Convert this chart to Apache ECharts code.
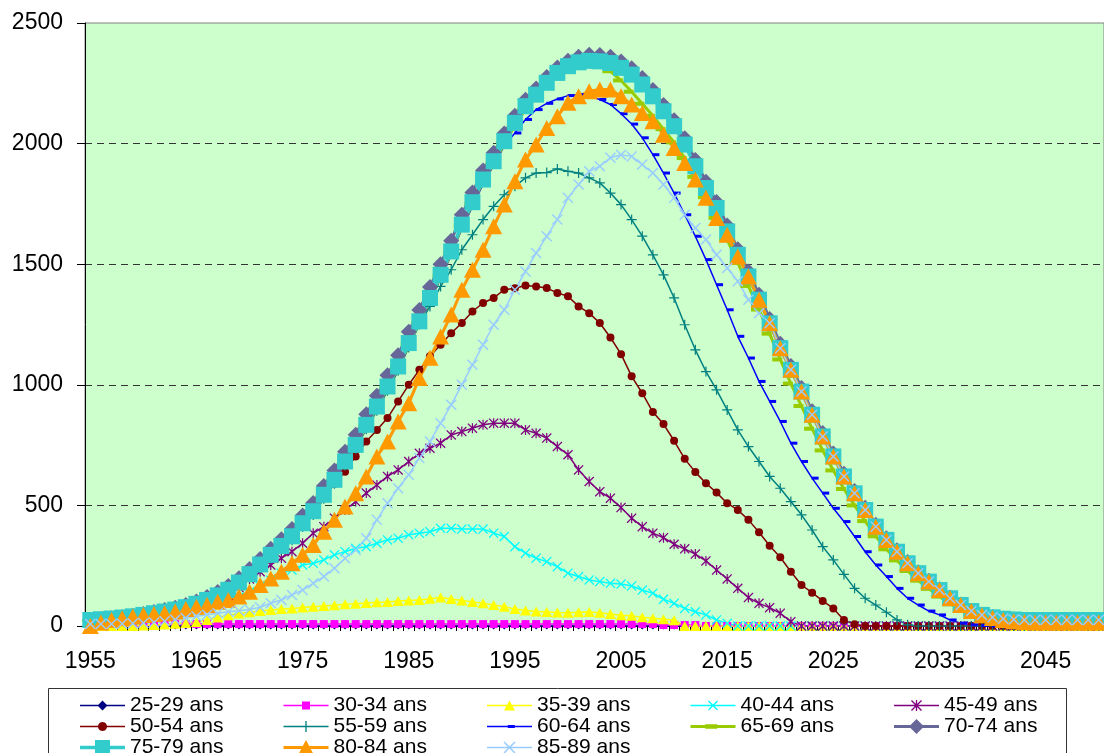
<!DOCTYPE html>
<html><head><meta charset="utf-8">
<script src="https://cdn.jsdelivr.net/npm/echarts@6/dist/echarts.min.js"></script>
<style>html,body{margin:0;padding:0;background:#fff}#c{width:1104px;height:753px}</style>
</head><body><div id="c"></div>
<script>
// Categories: years 1955..2050
const years = [];
for (let y = 1955; y <= 2050; y++) years.push(String(y));

const names = ['25-29 ans','30-34 ans','35-39 ans','40-44 ans','45-49 ans','50-54 ans','55-59 ans','60-64 ans','65-69 ans','70-74 ans','75-79 ans','80-84 ans','85-89 ans'];

const s25 = [0,0,0,0,0,0,0,0,0,0, 0,0,0,0,0,0,0,0,0,0, 0,0,0,0,0,0,0,0,0,0, 0,0,0,0,0,0,0,0,0,0, 0,0,0,0,0,0,0,0,0,0, 0,0,0,0,0,0,0,0,0,0, 0,0,0,0,0,0,0,0,0,0, 0,0,0,0,0,0,0,0,0,0, 0,0,0,0,0,0,0,0,0,0, 0,0,0,0,0,0];
const s30 = [0,0,0,0,0,0,3,8,8,8, 8,8,8,8,8,8,8,8,8,8, 8,8,8,8,8,8,8,8,8,8, 8,8,8,8,8,8,8,8,8,8, 8,8,8,8,8,8,8,8,8,8, 8,8,8,8,4,4,4,4,0,0, 0,0,0,0,0,0,0,0,0,0, 0,0,0,0,0,0,0,0,0,0, 0,0,0,0,0,0,0,0,0,0, 0,0,0,0,0,0];
const s35 = [0,0,0,0,0,2,4,6,9,12, 17,25,35,45,52,57,62,66,70,73, 77,80,83,86,90,92,95,98,100,104, 106,108,113,118,112,106,100,94,87,80, 70,64,60,58,56,55,57,58,55,50, 45,42,36,32,28,24,0,0,0,0, 0,0,0,0,0,0,0,0,0,0, 0,0,0,0,0,0,0,0,0,0, 0,0,0,0,0,0,0,0,0,0, 0,0,0,0,0,0];
const s40 = [12,15,18,22,26,31,37,43,50,58, 67,78,90,105,120,140,165,190,219,232, 253,260,274,295,308,322,329,343,357,364, 378,385,391,405,405,402,402,402,385,371, 329,302,281,267,246,219,205,191,184,177, 174,166,149,136,111,94,73,59,46,25, 11,0,0,0,0,0,0,0,0,0, 0,0,0,0,0,0,0,0,0,0, 0,0,0,0,0,0,0,0,0,0, 0,0,0,0,0,0];
const s45 = [15,18,21,25,30,35,42,49,57,66, 78,92,108,125,160,195,225,253,281,308, 343,385,412,447,481,516,551,585,620,647, 682,716,737,758,792,806,820,834,841,841, 841,813,799,779,744,710,647,599,557,530, 491,447,412,385,366,339,320,298,270,232, 195,156,118,94,76,53,18,0,0,0, 0,0,0,0,0,0,0,0,0,0, 0,0,0,0,0,0,0,0,0,0, 0,0,0,0,0,0];
const s50 = [18,21,24,28,33,39,46,53,61,71, 84,100,118,140,170,204,244,284,320,360, 414,464,532,590,640,703,765,813,862,931, 1000,1062,1118,1166,1214,1256,1304,1339,1360,1394, 1400,1412,1408,1401,1381,1367,1325,1297,1256,1196, 1127,1035,965,887,837,768,693,638,592,553, 509,481,440,389,333,285,225,170,138,104, 73,25,7,0,0,0,0,0,0,0, 0,0,0,0,0,0,0,0,0,0, 0,0,0,0,0,0];
const s55 = [18,21,24,28,33,38,45,52,60,70, 82,98,116,138,167,200,240,280,316,356, 410,460,528,590,665,735,816,892,975,1058, 1155,1250,1325,1408,1477,1560,1622,1685,1740,1788, 1823,1858,1878,1880,1895,1885,1878,1858,1837,1795, 1747,1685,1616,1539,1456,1360,1249,1145,1055,979, 896,813,744,682,620,571,516,461,398,329, 274,214,156,115,87,57,25,5,0,0, 0,0,0,0,0,0,0,0,0,0, 0,0,0,0,0,0];
const s60 = [20,23,26,30,35,41,48,55,63,73, 86,102,120,143,172,207,246,286,322,362, 415,465,533,595,670,740,822,898,980,1063, 1160,1250,1346,1440,1537,1646,1740,1832,1910,1990, 2044,2100,2141,2167,2185,2199,2203,2196,2183,2162, 2124,2081,2024,1954,1878,1795,1705,1616,1519,1415, 1311,1201,1111,1014,931,848,758,682,613,551, 488,433,371,308,253,205,156,115,87,62, 46,25,12,5,2,0,0,0,0,0, 0,0,0,0,0,0];
const s65 = [22,25,28,32,37,43,50,57,65,75, 88,104,122,145,175,210,250,290,327,367, 420,470,538,600,676,745,828,904,987,1070, 1167,1257,1354,1450,1547,1657,1750,1843,1918,2000, 2075,2142,2190,2240,2280,2307,2322,2328,2320,2300, 2262,2215,2165,2115,2060,2005,1940,1862,1778,1692, 1602,1505,1410,1312,1212,1105,1005,912,818,728, 645,568,500,435,372,318,272,228,188,154, 122,92,67,48,37,31,27,25,25,25, 25,25,25,25,25,25];
const s70 = [25,28,32,37,43,50,58,66,76,87, 102,120,141,166,198,236,278,320,360,402, 458,510,580,645,722,793,878,955,1040,1122, 1220,1310,1405,1500,1597,1705,1797,1888,1962,2042, 2115,2182,2228,2276,2316,2343,2360,2368,2367,2360, 2340,2312,2272,2222,2160,2097,2022,1932,1842,1758, 1660,1562,1470,1373,1273,1170,1078,987,890,800, 715,631,560,490,420,364,314,265,223,188, 152,118,89,63,47,37,31,27,25,25, 25,25,25,25,25,25];
const s75 = [25,28,31,35,40,46,53,60,68,78, 92,108,127,150,180,215,255,295,332,372, 426,476,544,606,682,751,834,910,993,1076, 1173,1263,1360,1456,1553,1664,1757,1851,1927,2010, 2086,2155,2203,2252,2293,2321,2337,2343,2341,2334, 2314,2286,2245,2196,2134,2072,1996,1906,1816,1733, 1636,1539,1449,1353,1255,1152,1062,972,876,786, 703,620,550,481,412,357,308,260,219,184, 149,115,87,62,46,36,30,27,25,25, 25,25,25,25,25,25];
const s80 = [0,15,25,32,39,46,50,53,60,70, 80,87,101,108,122,142,170,197,225,260, 295,336,391,440,495,550,620,703,765,848, 924,1028,1112,1200,1291,1394,1477,1560,1657,1747, 1844,1934,1996,2065,2113,2169,2196,2217,2224,2224, 2196,2162,2127,2093,2037,1982,1920,1851,1775,1692, 1622,1532,1449,1353,1255,1152,1062,972,876,786, 703,620,550,481,412,357,308,260,219,184, 149,115,87,62,45,33,25,20,17,15, 15,15,15,15,15,15];
const s85 = [8,8,8,9,10,12,15,20,26,33, 40,47,53,59,63,68,78,94,108,129, 149,177,205,239,281,315,364,440,509,571, 627,696,765,841,917,1000,1083,1166,1249,1311, 1394,1470,1546,1616,1685,1775,1830,1885,1906,1941, 1954,1947,1913,1878,1830,1775,1705,1650,1602,1539, 1484,1429,1353,1297,1255,1152,1062,972,876,786, 703,620,550,481,412,357,308,260,219,184, 149,115,87,62,46,36,30,27,25,25, 25,25,25,25,25,25];

const seriesValues = [s25,s30,s35,s40,s45,s50,s55,s60,s65,s70,s75,s80,s85];
const colors = ['#000080','#FF00FF','#FFFF00','#00FFFF','#800080','#800000','#008080','#0000FF','#99CC00','#666699','#33CCCC','#FF9900','#99CCFF'];

// ---- marker shape helpers ----
function P(pts){ return 'M' + pts.map(p => p[0].toFixed(2) + ',' + p[1].toFixed(2)).join('L') + 'Z'; }
const xUnit = [[0,0.9],[0.9,0],[5,4.1],[9.1,0],[10,0.9],[5.9,5],[10,9.1],[9.1,10],[5,5.9],[0.9,10],[0,9.1],[4.1,5]];
const barUnit = [[4.4,0],[5.6,0],[5.6,10],[4.4,10]];
const plusUnit = [[4.4,0],[5.6,0],[5.6,4.4],[10,4.4],[10,5.6],[5.6,5.6],[5.6,10],[4.4,10],[4.4,5.6],[0,5.6],[0,4.4],[4.4,4.4]];
function scaleUnit(u, cx, cy, w, h){ return u.map(p => [cx + (p[0]-5)/10*w, cy + (p[1]-5)/10*h]); }
function shapePath(type, cx, cy, w, h){
  const hw = w/2, hh = h/2;
  switch(type){
    case 'diamond': return P([[cx,cy-hh],[cx+hw,cy],[cx,cy+hh],[cx-hw,cy]]);
    case 'square': case 'dash': return P([[cx-hw,cy-hh],[cx+hw,cy-hh],[cx+hw,cy+hh],[cx-hw,cy+hh]]);
    case 'triangle': return P([[cx,cy-hh],[cx+hw,cy+hh],[cx-hw,cy+hh]]);
    case 'circle': { const pts = []; for (let k = 0; k < 24; k++){ const a = 2*Math.PI*k/24; pts.push([cx+hw*Math.cos(a), cy+hh*Math.sin(a)]); } return P(pts); }
    case 'x': return P(scaleUnit(xUnit,cx,cy,w,h));
    case 'star': return P(scaleUnit(xUnit,cx,cy,w,h)) + P(scaleUnit(barUnit,cx,cy,w,h));
    case 'plus': return P(scaleUnit(plusUnit,cx,cy,w,h));
  }
}
const chartSymbol = {
  diamond: 'diamond', square: 'rect', triangle: 'triangle', circle: 'circle', dash: 'rect',
  x: 'path://' + P(xUnit),
  star: 'path://' + P(xUnit) + P(barUnit),
  plus: 'path://' + P(plusUnit)
};

// style per series: [shape, chart size, line width, legend size, offsetX]
const styles = [
  ['diamond', [7,7], 1.5, [10,10], 0],
  ['square', [8,8], 1.5, [8,8], 0],
  ['triangle', [11,10], 1.5, [11,10], 0],
  ['x', [10,10], 1.5, [10,10], 0],
  ['star', [10,10], 1.5, [11,11], 0],
  ['circle', [8,8], 1.5, [9,9], 0],
  ['plus', [10,10], 1.5, [11,11], 0],
  ['dash', [7,3], 1.5, [7,3], 3],
  ['dash', [10,4], 3, [12,4.5], -3],
  ['diamond', [16,16], 3, [15,15], 0],
  ['square', [16,16], 3.5, [15,15], 0],
  ['triangle', [17,16], 3, [16,15], 0],
  ['x', [11,11], 1.5, [12,12], 0]
];

const LW = 45, LH = 16;
function legendIcon(st){
  const lw = st[2];
  let d = P([[0,LH/2-lw/2],[LW,LH/2-lw/2],[LW,LH/2+lw/2],[0,LH/2+lw/2]]);
  const off = st[0]==='dash' ? st[4]*0.6 : 0;
  d += shapePath(st[0], LW/2 + off, LH/2, st[3][0], st[3][1]);
  d += 'M0,0L0.01,0L0,0.01Z' + 'M45,16L44.99,16L45,15.99Z';
  return 'path://' + d;
}

const series = names.map((n, i) => {
  const st = styles[i];
  return {
    type: 'line', name: n, data: seriesValues[i],
    symbol: chartSymbol[st[0]], symbolSize: st[1],
    symbolOffset: [st[4], 0],
    showAllSymbol: true, clip: false, animation: false,
    itemStyle: { color: colors[i], borderWidth: 0 },
    lineStyle: { color: colors[i], width: st[2] },
    emphasis: { disabled: true }
  };
});

const chart = echarts.init(document.getElementById('c'));
chart.setOption({
  animation: false,
  textStyle: { fontFamily: 'Liberation Sans, Arial, sans-serif' },
  grid: { left: 85, top: 23, width: 1023, height: 603, show: true, backgroundColor: '#CCFFCC', borderColor: '#808080', borderWidth: 1 },
  xAxis: {
    type: 'category', data: years, boundaryGap: true,
    axisLine: { show: true, lineStyle: { color: '#000', width: 1 } },
    axisTick: { show: true, interval: 0, length: 5, lineStyle: { color: '#000' } },
    axisLabel: { interval: 9, color: '#000', fontSize: 23, margin: 24 },
    splitLine: { show: false }
  },
  yAxis: {
    type: 'value', min: 0, max: 2500, interval: 500,
    axisLine: { show: true, lineStyle: { color: '#000' } },
    axisTick: { show: true, length: 8, lineStyle: { color: '#000' } },
    axisLabel: { color: '#000', fontSize: 23, margin: 22, formatter: v => String(v) },
    splitLine: { show: true, lineStyle: { color: ['rgba(0,0,0,0)','#333','#333','#333','#333','rgba(0,0,0,0)'], type: [7,5], width: 1 } }
  },
  legend: {
    left: 80, top: 695, width: 1020, padding: 0, itemGap: 0,
    itemWidth: LW, itemHeight: LH,
    itemStyle: { borderWidth: 0 },
    textStyle: { color: '#000', fontSize: 21, lineHeight: 20, width: 153.5 },
    data: names.map((n, i) => ({ name: n, icon: legendIcon(styles[i]) }))
  },
  graphic: [{ type: 'rect', silent: true, shape: { x: 48.5, y: 688.5, width: 1018, height: 100 }, style: { fill: 'none', stroke: '#333', lineWidth: 1 } }],
  series: series
});
</script>
</body></html>
